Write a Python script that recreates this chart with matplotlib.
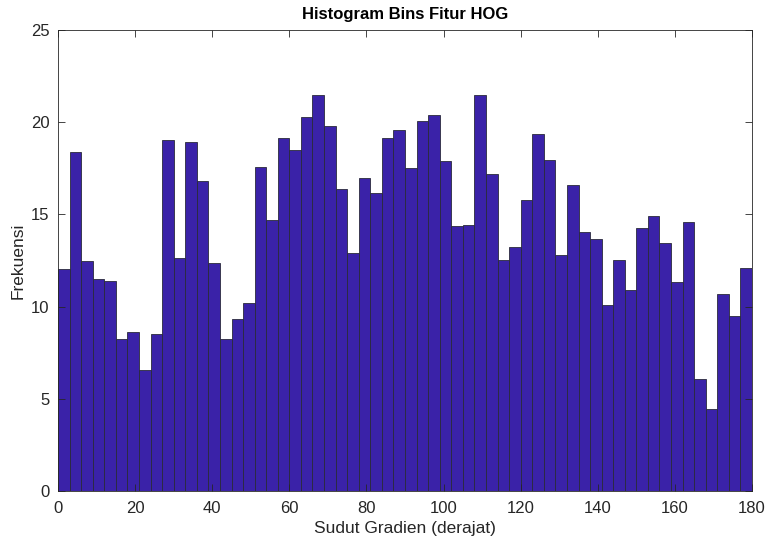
import matplotlib
matplotlib.use("Agg")
import matplotlib.pyplot as plt
import numpy as np

plt.rcParams['font.family'] = ['Liberation Sans', 'DejaVu Sans']

bin_edges_start = 0
bin_width = 3
counts = [12.06, 18.38, 12.48, 11.47, 11.38, 8.25, 8.63, 6.54, 8.49, 19.01,
          12.62, 18.90, 16.81, 12.39, 8.25, 9.34, 10.18, 17.59, 14.70, 19.14,
          18.47, 20.30, 21.50, 19.77, 16.36, 12.89, 16.96, 16.14, 19.12, 19.57,
          17.52, 20.08, 20.39, 17.91, 14.37, 14.43, 21.45, 17.17, 12.53, 13.22,
          15.80, 19.34, 17.93, 12.82, 16.58, 14.05, 13.69, 10.09, 12.53, 10.89,
          14.28, 14.91, 13.47, 11.32, 14.57, 6.08, 4.42, 10.69, 9.48, 12.08]
title = "Histogram Bins Fitur HOG"
xlabel = "Sudut Gradien (derajat)"
ylabel = "Frekuensi"
xticks = [0, 20, 40, 60, 80, 100, 120, 140, 160, 180]
yticks = [0, 5, 10, 15, 20, 25]

edges = bin_edges_start + bin_width * np.arange(len(counts))

fig = plt.figure(figsize=(7.69, 5.40), dpi=100)
ax = fig.add_axes([58/769, 1 - 491/540, (752 - 58)/769, (491 - 30)/540])
ax.bar(edges, counts, width=bin_width, align='edge', color='#3A22A8',
       edgecolor='#2a2a3a', linewidth=0.6)
ax.set_xlim(0, 180)
ax.set_ylim(0, 25)
ax.set_xticks(xticks)
ax.set_yticks(yticks)
ax.tick_params(direction='in', top=True, right=True, labelsize=12,
               length=5, width=0.6, colors='#262626')
ax.tick_params(axis='x', pad=7)
ax.tick_params(axis='y', pad=6)
for s in ax.spines.values():
    s.set_color('#262626')
    s.set_linewidth(0.6)
ax.set_title(title, fontsize=12, fontweight='bold', pad=8)
ax.set_xlabel(xlabel, fontsize=12.5, color='#262626', labelpad=4)
ax.set_ylabel(ylabel, fontsize=12.5, color='#262626', labelpad=4)
fig.savefig("out.png", dpi=100)
